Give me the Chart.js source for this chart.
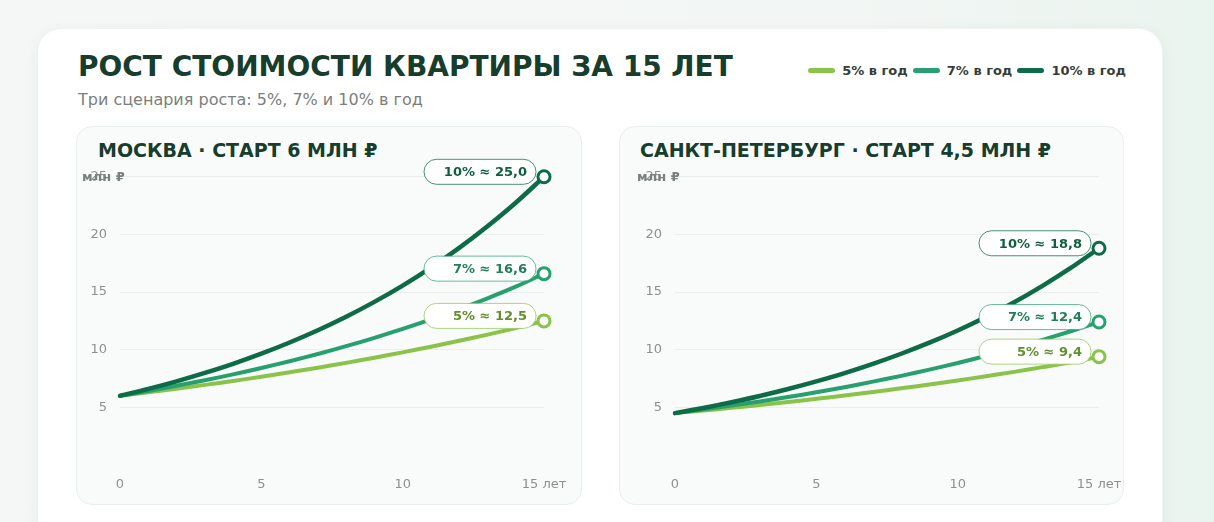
<!DOCTYPE html>
<html>
<head>
    <meta charset="utf-8">
    <title>Рост стоимости квартиры за 15 лет</title>
    <style>
        body {
            margin: 0;
            width: 1214px;
            height: 522px;
            overflow: hidden;
            position: relative;
            font-family: "DejaVu Sans", sans-serif;
            background: linear-gradient(90deg, #f5f7f6 0%, #f2f6f4 70%, #eaf4ef 100%);
        }
        #card {
            position: absolute;
            left: 37px;
            top: 28px;
            width: 1126px;
            height: 540px;
            background: #ffffff;
            border-radius: 24px;
            border: 1px solid #eef2f0;
            box-sizing: border-box;
            box-shadow: 0 2px 14px rgba(20, 60, 40, 0.05);
        }
        #title {
            position: absolute;
            left: 78px;
            top: 53px;
            font-size: 28px;
            line-height: 28px;
            font-weight: bold;
            color: #173d2c;
        }
        #subtitle {
            position: absolute;
            left: 78px;
            top: 92px;
            font-size: 16px;
            line-height: 16px;
            color: #7a7f7c;
        }
        #legend {
            position: absolute;
            right: 88px;
            top: 62px;
            display: flex;
            align-items: center;
            height: 16px;
        }
        .item {
            display: flex;
            align-items: center;
            margin-left: 5px;
            font-size: 13px;
            font-weight: bold;
            color: #363d39;
        }
        .swatch {
            width: 27px;
            height: 5px;
            border-radius: 3px;
            margin-right: 7px;
        }
        .panel {
            position: absolute;
            top: 126px;
            height: 379px;
            background: #f9fbfa;
            border: 1px solid #e9efec;
            border-radius: 16px;
            box-sizing: border-box;
        }
        .panel-title {
            position: absolute;
            top: 141px;
            font-size: 19px;
            line-height: 19px;
            font-weight: bold;
            color: #173d2c;
        }
        .chart-box {
            position: absolute;
            top: 156px;
            width: 506px;
            height: 344px;
        }
    </style>
</head>
<body>
<div id="card"></div>
<div id="title">РОСТ СТОИМОСТИ КВАРТИРЫ ЗА 15 ЛЕТ</div>
<div id="subtitle">Три сценария роста: 5%, 7% и 10% в год</div>
<div id="legend"></div>

<div class="panel" style="left: 76px; width: 506px;"></div>
<div class="panel" style="left: 619px; width: 505px;"></div>
<div class="panel-title" style="left: 98px;">МОСКВА · СТАРТ 6 МЛН ₽</div>
<div class="panel-title" style="left: 640px;">САНКТ-ПЕТЕРБУРГ · СТАРТ 4,5 МЛН ₽</div>

<div class="chart-box" style="left: 76px;"><canvas id="msk"></canvas></div>
<div class="chart-box" style="left: 631px;"><canvas id="spb"></canvas></div>

<script src="https://cdn.jsdelivr.net/npm/chart.js"></script>
<script>
    // years on the x axis
    const years = [0, 1, 2, 3, 4, 5, 6, 7, 8, 9, 10, 11, 12, 13, 14, 15];
    const xTicks = [0, 5, 10, 15];
    const yTicks = [5, 10, 15, 20, 25];

    const seriesNames = ['5% в год', '7% в год', '10% в год'];
    const seriesShort = ['5%', '7%', '10%'];

    // Москва, млн ₽
    const msk5 = [6.0, 6.3, 6.62, 6.95, 7.29, 7.66, 8.04, 8.44, 8.86, 9.31, 9.77, 10.26, 10.78, 11.31, 11.88, 12.5];
    const msk7 = [6.0, 6.42, 6.87, 7.35, 7.86, 8.42, 9.0, 9.63, 10.31, 11.03, 11.8, 12.63, 13.51, 14.46, 15.47, 16.6];
    const msk10 = [6.0, 6.6, 7.26, 7.99, 8.78, 9.66, 10.63, 11.69, 12.86, 14.15, 15.56, 17.12, 18.83, 20.71, 22.75, 25.0];

    // Санкт-Петербург, млн ₽
    const spb5 = [4.5, 4.73, 4.96, 5.21, 5.47, 5.74, 6.03, 6.33, 6.65, 6.98, 7.33, 7.7, 8.08, 8.49, 8.91, 9.4];
    const spb7 = [4.5, 4.82, 5.15, 5.51, 5.9, 6.31, 6.75, 7.23, 7.73, 8.27, 8.85, 9.47, 10.13, 10.84, 11.6, 12.4];
    const spb10 = [4.5, 4.95, 5.45, 5.99, 6.59, 7.25, 7.97, 8.77, 9.65, 10.61, 11.67, 12.84, 14.12, 15.54, 17.09, 18.8];

    const lineColors = ['#8bc34a', '#27a06f', '#0d6b47'];
    const textColors = ['#5f8f2e', '#1f7f57', '#0f5e3f'];
    const boxBorders = ['rgba(139,195,74,0.7)', 'rgba(39,160,111,0.7)', 'rgba(13,107,71,0.75)'];
    const lineWidths = [4, 4, 4.5];

    // legend in the header
    const legend = document.getElementById('legend');
    seriesNames.forEach((name, i) => {
      const item = document.createElement('div');
      item.className = 'item';
      item.innerHTML = '<span class="swatch" style="background:' + lineColors[i] + '"></span>' + name;
      legend.appendChild(item);
    });

    // pill labels next to the last point of each line + "млн ₽" over the axis
    const endLabels = {
      id: 'endLabels',
      afterDatasetsDraw(chart) {
        const ctx = chart.ctx;
        chart.data.datasets.forEach((ds, di) => {
          const meta = chart.getDatasetMeta(di);
          const last = meta.data[meta.data.length - 1];
          const s = ds.seriesIndex;
          const w = 112, h = 25;
          const right = last.x - 8;
          const cy = last.y - 5;
          ctx.save();
          ctx.beginPath();
          ctx.roundRect(right - w, cy - h / 2, w, h, h / 2);
          ctx.fillStyle = '#ffffff';
          ctx.fill();
          ctx.lineWidth = 1;
          ctx.strokeStyle = boxBorders[s];
          ctx.stroke();
          const v = ds.data[ds.data.length - 1].y.toFixed(1).replace('.', ',');
          ctx.font = 'bold 13px "DejaVu Sans"';
          ctx.fillStyle = textColors[s];
          ctx.textAlign = 'right';
          ctx.textBaseline = 'middle';
          ctx.fillText(seriesShort[s] + ' ≈ ' + v, right - 9, cy + 1);
          ctx.restore();
        });
      },
      afterDraw(chart) {
        const ctx = chart.ctx;
        const y = chart.scales.y.getPixelForValue(25);
        ctx.save();
        ctx.font = 'bold 13px "DejaVu Sans"';
        ctx.fillStyle = '#7a807d';
        ctx.textAlign = 'left';
        ctx.textBaseline = 'middle';
        ctx.fillText('млн ₽', 6, y + 1);
        ctx.restore();
      }
    };

    function makeChart(id, s5, s7, s10) {
      const series = [s10, s7, s5];   // 10% drawn on top
      const idx = [2, 1, 0];
      const datasets = series.map((s, k) => {
        const i = idx[k];
        return {
          label: seriesNames[i],
          seriesIndex: i,
          data: years.map((yr, j) => ({ x: yr, y: s[j] })),
          borderColor: lineColors[i],
          borderWidth: lineWidths[i],
          borderCapStyle: 'round',
          tension: 0.3,
          fill: false,
          clip: false,
          pointRadius: c => c.dataIndex === years.length - 1 ? 6 : 0,
          pointBorderWidth: 3,
          pointBorderColor: lineColors[i],
          pointBackgroundColor: '#ffffff',
        };
      });

      return new Chart(document.getElementById(id), {
        type: 'line',
        data: { datasets: datasets },
        options: {
          responsive: true,
          maintainAspectRatio: false,
          animation: false,
          layout: { padding: { top: 12, right: 38, left: 0, bottom: 0 } },
          plugins: {
            legend: { display: false },
            tooltip: { enabled: false },
          },
          scales: {
            x: {
              type: 'linear',
              min: 0,
              max: 15,
              afterBuildTicks: s => { s.ticks = xTicks.map(v => ({ value: v })); },
              afterFit: s => { s.height = 35; },
              ticks: {
                callback: v => v === 15 ? '15 лет' : v,
                color: '#8b918e',
                font: { family: 'DejaVu Sans', size: 13 },
                padding: 4,
                maxRotation: 0,
                autoSkip: false,
              },
              grid: { display: false },
              border: { display: false },
            },
            y: {
              min: 0,
              max: 25,
              afterBuildTicks: s => { s.ticks = yTicks.map(v => ({ value: v })); },
              afterFit: s => { s.width = 44; },
              ticks: {
                color: '#8b918e',
                font: { family: 'DejaVu Sans', size: 13 },
                padding: 13,
              },
              grid: { color: '#eaeeec', drawTicks: false, lineWidth: 1 },
              border: { display: false },
            },
          },
        },
        plugins: [endLabels],
      });
    }

    makeChart('msk', msk5, msk7, msk10);
    makeChart('spb', spb5, spb7, spb10);
</script>
</body>
</html>
